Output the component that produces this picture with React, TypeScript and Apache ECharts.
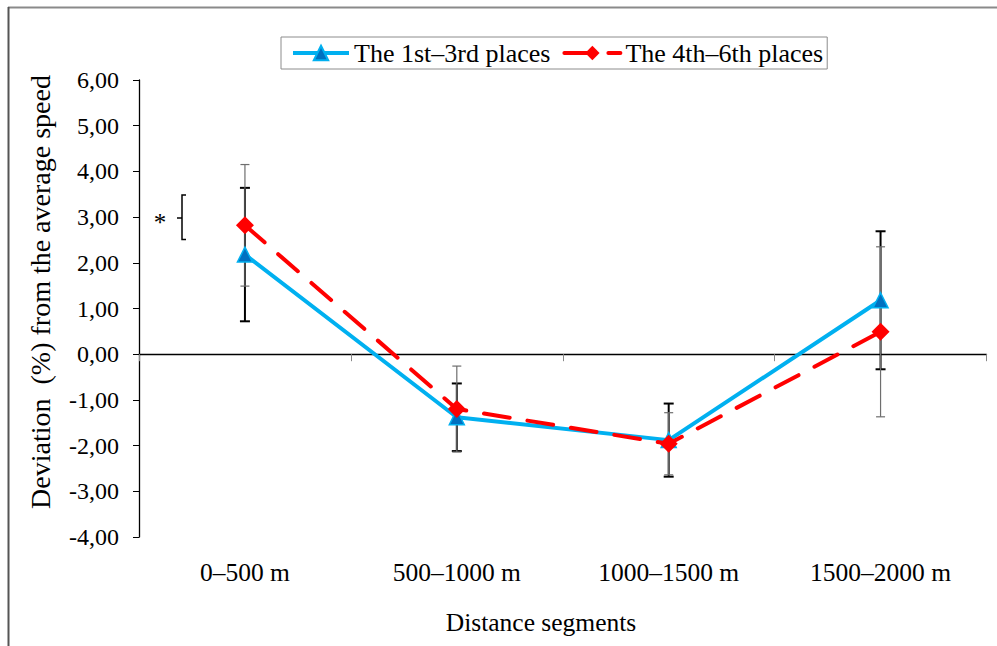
import React, { useEffect, useRef } from "react";
import * as echarts from "echarts";

const categories = ["0–500 m", "500–1000 m", "1000–1500 m", "1500–2000 m"];
const seriesNames = ["The 1st–3rd places", "The 4th–6th places"];
const top3Values = [2.18, -1.38, -1.88, 1.18];
const top3Errors = [1.46, 0.74, 0.8, 1.51];
const next3Values = [2.82, -1.2, -1.96, 0.49];
const next3Errors = [1.33, 0.94, 0.68, 1.86];
const yMin = -4;
const yMax = 6;
const yStep = 1;
const yAxisTitle = "Deviation  (%) from the average speed";
const xAxisTitle = "Distance segments";
const significanceMark = "*";

const FONT = '"Liberation Serif", "Times New Roman", serif';

function errorData(values: number[], errs: number[]) {
  return values.map((v, i) => [i, v - errs[i], v + errs[i]]);
}

function makeErrorRender(stroke: string, lineWidth: number, capHalf: number) {
  return (params: any, api: any) => {
    const x = api.value(0);
    const lo = api.value(1);
    const hi = api.value(2);
    const top = api.coord([x, hi]);
    const bot = api.coord([x, lo]);
    const style = { stroke, lineWidth };
    return {
      type: "group",
      children: [
        { type: "line", shape: { x1: top[0], y1: top[1], x2: bot[0], y2: bot[1] }, style },
        { type: "line", shape: { x1: top[0] - capHalf, y1: top[1], x2: top[0] + capHalf, y2: top[1] }, style },
        { type: "line", shape: { x1: bot[0] - capHalf, y1: bot[1], x2: bot[0] + capHalf, y2: bot[1] }, style },
      ],
    };
  };
}

export default function App() {
  const ref = useRef<HTMLDivElement>(null);
  useEffect(() => {
    if (!ref.current) return;
    const chart = echarts.init(ref.current, undefined, { renderer: "svg" });
    chart.setOption({
      animation: false,
      backgroundColor: "#ffffff",
      textStyle: { fontFamily: FONT },
      grid: { left: 139, right: 10.5, top: 80, bottom: 109 },
      legend: {
        data: seriesNames,
        left: 281,
        top: 37,
        orient: "horizontal",
        itemWidth: 56,
        itemHeight: 18,
        itemGap: 12,
        padding: [3, 4, 3, 10],
        borderColor: "#8c8c8c",
        borderWidth: 1,
        lineStyle: { width: 4 },
        textStyle: { fontFamily: FONT, fontSize: 26, color: "#000" },
      },
      xAxis: [
        {
          type: "category",
          data: categories,
          position: "bottom",
          axisLine: { show: true, onZero: true, lineStyle: { color: "#000", width: 1.3 } },
          axisTick: { show: true, length: 7, lineStyle: { color: "#888", width: 1 } },
          axisLabel: { show: false },
          splitLine: { show: false },
        },
        {
          type: "category",
          data: categories,
          position: "bottom",
          axisLine: { show: false, onZero: false },
          axisTick: { show: false },
          axisLabel: { show: true, margin: 22, fontFamily: FONT, fontSize: 25.5, color: "#000" },
          splitLine: { show: false },
        },
      ],
      yAxis: {
        type: "value",
        min: yMin,
        max: yMax,
        interval: yStep,
        axisLine: { show: true, lineStyle: { color: "#000", width: 1.3 } },
        axisTick: { show: true, length: 6, lineStyle: { color: "#000", width: 1 } },
        axisLabel: {
          margin: 20,
          fontFamily: FONT,
          fontSize: 24,
          color: "#000",
          formatter: (v: number) => v.toFixed(2).replace(".", ","),
        },
        splitLine: { show: false },
      },
      series: [
        {
          type: "custom",
          name: "err1",
          xAxisIndex: 0,
          yAxisIndex: 0,
          z: 1,
          renderItem: makeErrorRender("#000", 2, 5),
          encode: { x: 0, y: [1, 2] },
          data: errorData(top3Values, top3Errors),
          silent: true,
        },
        {
          type: "custom",
          name: "err2",
          xAxisIndex: 0,
          yAxisIndex: 0,
          z: 1,
          renderItem: makeErrorRender("#6e6e6e", 1.2, 4.5),
          encode: { x: 0, y: [1, 2] },
          data: errorData(next3Values, next3Errors),
          silent: true,
        },
        {
          type: "line",
          name: seriesNames[0],
          xAxisIndex: 0,
          data: top3Values,
          z: 3,
          symbol: "triangle",
          symbolSize: 15,
          itemStyle: { color: "#0070C0", borderColor: "#00B0F0", borderWidth: 1.5 },
          lineStyle: { color: "#00B0F0", width: 4 },
        },
        {
          type: "line",
          name: seriesNames[1],
          xAxisIndex: 0,
          data: next3Values,
          z: 4,
          symbol: "diamond",
          symbolSize: 18,
          itemStyle: { color: "#FF0000" },
          lineStyle: { color: "#FF0000", width: 4, type: [26, 18], cap: "round" },
        },
      ],
      graphic: [
        {
          type: "line",
          shape: { x1: 8, y1: 7.5, x2: 997, y2: 7.5 },
          style: { stroke: "#8a8a8a", lineWidth: 2 },
        },
        {
          type: "line",
          shape: { x1: 8.5, y1: 7, x2: 8.5, y2: 646 },
          style: { stroke: "#555", lineWidth: 2 },
        },
        {
          type: "text",
          x: 40,
          y: 292,
          rotation: Math.PI / 2,
          style: {
            text: yAxisTitle,
            fontFamily: FONT,
            fontSize: 28,
            fill: "#000",
            textAlign: "center",
            textVerticalAlign: "middle",
          },
        },
        {
          type: "text",
          x: 541,
          y: 622,
          style: {
            text: xAxisTitle,
            fontFamily: FONT,
            fontSize: 25.5,
            fill: "#000",
            textAlign: "center",
            textVerticalAlign: "middle",
          },
        },
        {
          type: "text",
          x: 160,
          y: 222,
          style: {
            text: significanceMark,
            fontFamily: FONT,
            fontSize: 25,
            fill: "#000",
            textAlign: "center",
            textVerticalAlign: "middle",
          },
        },
        {
          type: "polyline",
          shape: { points: [[186, 195], [182, 195], [182, 239.5], [186, 239.5]] },
          style: { stroke: "#000", lineWidth: 1.5, fill: "none" },
        },
        {
          type: "line",
          shape: { x1: 177, y1: 218, x2: 182, y2: 218 },
          style: { stroke: "#000", lineWidth: 1.5 },
        },
      ],
    });
    return () => chart.dispose();
  }, []);
  return (
    <div
      ref={ref}
      style={{ position: "fixed", left: 0, top: 0, width: 997, height: 646 }}
    />
  );
}
